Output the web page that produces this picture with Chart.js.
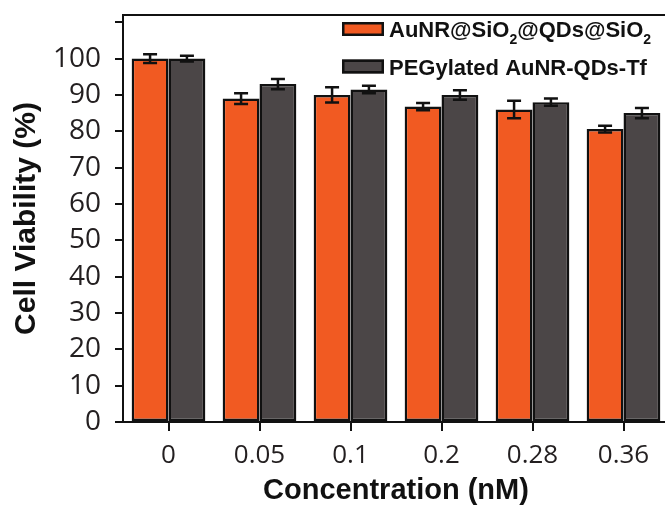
<!DOCTYPE html>
<html>
<head>
<meta charset="utf-8">
<script src="https://cdn.jsdelivr.net/npm/chart.js@4.4.1/dist/chart.umd.min.js"></script>
<style>
  html, body { margin: 0; padding: 0; background: #fff; overflow: hidden; }
  #wrap { width: 669px; height: 509px; }
</style>
</head>
<body>
<div id="wrap"><canvas id="chart" width="669" height="509"></canvas></div>
<script>
// Concentrations tested (nM)
const concentrations = ['0', '0.05', '0.1', '0.2', '0.28', '0.36'];

// Cell viability (%) and standard deviations for each nanoprobe
const silicaShellViability = [100, 89.0, 90.0, 86.8, 86.0, 80.6];
const silicaShellError     = [1.2, 1.5, 2.1, 1.0, 2.4, 0.9];
const pegylatedViability   = [100, 93.0, 91.5, 90.0, 88.0, 85.0];
const pegylatedError       = [0.8, 1.4, 1.0, 1.3, 1.0, 1.4];

// Y axis ticks (the top tick mark carries no label)
const yTickValues = [0, 10, 20, 30, 40, 50, 60, 70, 80, 90, 100, 110];
const yTickLabels = ['0', '10', '20', '30', '40', '50', '60', '70', '80', '90', '100', ''];

const INK = '#111111';
const BOLD_FAMILY = '"Liberation Sans", Arial, sans-serif';
const TICK_FAMILY = '"Open Sans", "Noto Sans", sans-serif';

// Mean ± SD whiskers on top of each bar
const errorBars = {
  id: 'errorBars',
  afterDatasetsDraw(chart) {
    const { ctx } = chart;
    const y = chart.scales.y;
    ctx.save();
    ctx.strokeStyle = INK;
    ctx.lineWidth = 2.5;
    chart.data.datasets.forEach((ds, i) => {
      chart.getDatasetMeta(i).data.forEach((bar, j) => {
        const v = ds.data[j], e = ds.errors[j];
        const yt = y.getPixelForValue(v + e);
        const yb = y.getPixelForValue(v - e);
        const hw = 7;
        ctx.beginPath();
        ctx.moveTo(bar.x, yt); ctx.lineTo(bar.x, yb);
        ctx.moveTo(bar.x - hw, yt); ctx.lineTo(bar.x + hw, yt);
        ctx.moveTo(bar.x - hw, yb); ctx.lineTo(bar.x + hw, yb);
        ctx.stroke();
      });
    });
    ctx.restore();
  }
};

// Top edge of the plot frame
const topFrame = {
  id: 'topFrame',
  afterDraw(chart) {
    const { ctx, chartArea } = chart;
    ctx.save();
    ctx.strokeStyle = INK;
    ctx.lineWidth = 2;
    ctx.beginPath();
    ctx.moveTo(chartArea.left - 1, chartArea.top);
    ctx.lineTo(chartArea.right, chartArea.top);
    ctx.stroke();
    ctx.restore();
  }
};

// Boxed legend with subscript digits (₂ is rendered as a lowered small 2)
const boxLegend = {
  id: 'boxLegend',
  afterDraw(chart, args, opts) {
    const { ctx } = chart;
    ctx.save();
    chart.data.datasets.forEach((ds, i) => {
      const top = opts.top + i * opts.rowGap;
      ctx.fillStyle = ds.backgroundColor;
      ctx.fillRect(opts.x, top, opts.boxW, opts.boxH);
      ctx.lineWidth = 2.5;
      ctx.strokeStyle = INK;
      ctx.strokeRect(opts.x + 1.25, top + 1.25, opts.boxW - 2.5, opts.boxH - 2.5);

      let tx = opts.x + opts.boxW + opts.gap;
      const base = top + opts.boxH + opts.baseShift;
      ctx.fillStyle = INK;
      ctx.textBaseline = 'alphabetic';
      ctx.textAlign = 'left';
      ds.label.split(/(₂)/).forEach(part => {
        if (!part) return;
        if (part === '₂') {
          ctx.font = `bold ${Math.round(opts.size * 0.64)}px ${BOLD_FAMILY}`;
          ctx.fillText('2', tx, base + opts.size * 0.3);
          tx += ctx.measureText('2').width;
        } else {
          ctx.font = `bold ${opts.size}px ${BOLD_FAMILY}`;
          ctx.fillText(part, tx, base);
          tx += ctx.measureText(part).width;
        }
      });
    });
    ctx.restore();
  }
};

new Chart(document.getElementById('chart'), {
  type: 'bar',
  data: {
    labels: concentrations,
    datasets: [
      {
        label: 'AuNR@SiO₂@QDs@SiO₂',
        data: silicaShellViability,
        errors: silicaShellError,
        backgroundColor: '#F15A22',
        borderColor: INK,
        borderWidth: 2.5,
        borderSkipped: false
      },
      {
        label: 'PEGylated AuNR-QDs-Tf',
        data: pegylatedViability,
        errors: pegylatedError,
        backgroundColor: '#4B4647',
        borderColor: INK,
        borderWidth: 2.5,
        borderSkipped: false
      }
    ]
  },
  options: {
    responsive: false,
    animation: false,
    datasets: { bar: { categoryPercentage: 0.81, barPercentage: 1.0 } },
    layout: { padding: { top: 15, left: 0, right: 0, bottom: 0 } },
    plugins: {
      legend: { display: false },
      tooltip: { enabled: false },
      boxLegend: { x: 342, top: 22, rowGap: 37.5, boxW: 42, boxH: 14, gap: 5, size: 22, baseShift: 1 }
    },
    scales: {
      x: {
        grid: { display: true, drawOnChartArea: false, drawTicks: true, tickLength: 9, color: INK, lineWidth: 2, offset: false },
        border: { display: true, color: INK, width: 2 },
        ticks: { font: { family: TICK_FAMILY, size: 26 }, color: '#231F20', padding: 9, maxRotation: 0, autoSkip: false },
        title: {
          display: true,
          text: 'Concentration (nM)',
          font: { family: BOLD_FAMILY, size: 29, weight: 'bold' },
          color: INK,
          padding: { top: 0, bottom: 1 }
        },
        afterFit(scale) {
          scale.height = 87;
          scale.paddingLeft = 0;
          scale.paddingRight = 0;
        }
      },
      y: {
        min: 0,
        max: 112,
        afterBuildTicks(scale) { scale.ticks = yTickValues.map(v => ({ value: v })); },
        grid: { display: true, drawOnChartArea: false, drawTicks: true, tickLength: 8, color: INK, lineWidth: 2 },
        border: { display: true, color: INK, width: 2 },
        ticks: {
          font: { family: TICK_FAMILY, size: 28 },
          color: '#231F20',
          padding: 14,
          autoSkip: false,
          callback: v => yTickLabels[yTickValues.indexOf(v)]
        },
        title: {
          display: true,
          text: 'Cell Viability (%)',
          font: { family: BOLD_FAMILY, size: 30, weight: 'bold' },
          color: INK,
          padding: { top: 9, bottom: 0 }
        },
        afterFit(scale) {
          scale.width = 123;
          scale.paddingTop = 0;
          scale.paddingBottom = 0;
        }
      }
    }
  },
  plugins: [errorBars, topFrame, boxLegend]
});
</script>
</body>
</html>
